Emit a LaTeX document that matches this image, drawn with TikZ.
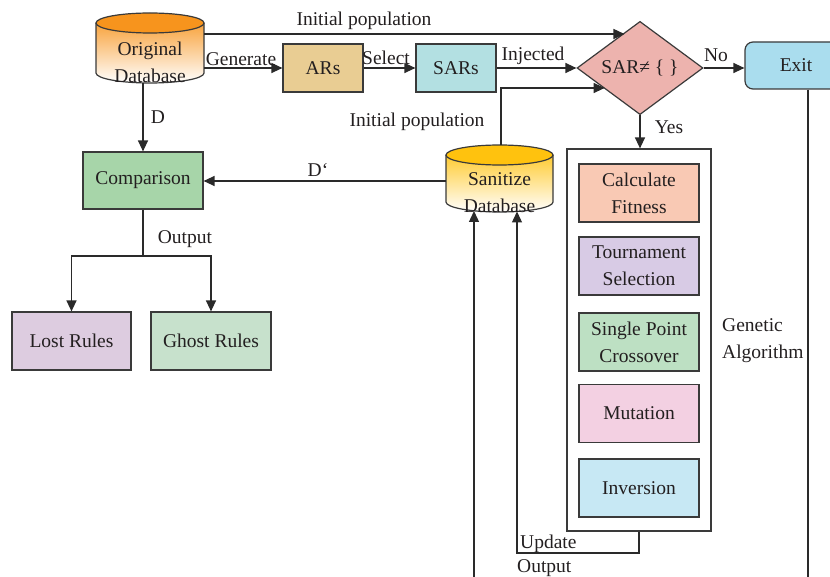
\documentclass[tikz,border=0pt]{standalone}
\usepackage{fontspec}
\setmainfont{Liberation Serif}
\usetikzlibrary{arrows.meta,shapes.geometric,calc}
\definecolor{bordc}{HTML}{3A3A3A}
\definecolor{linec}{HTML}{2A2A2A}
\definecolor{txtc}{HTML}{231F20}
\definecolor{dborange}{HTML}{F7941D}
\definecolor{dbyellow}{HTML}{FFC20E}
\definecolor{arsc}{HTML}{E9CD93}
\definecolor{sarsc}{HTML}{B3E0E2}
\definecolor{diac}{HTML}{EDB3AE}
\definecolor{exitc}{HTML}{AADDEE}
\definecolor{cmpc}{HTML}{A7D5A9}
\definecolor{lostc}{HTML}{DDCCE0}
\definecolor{ghostc}{HTML}{C7E1CC}
\definecolor{fitc}{HTML}{F9C9B4}
\definecolor{tourc}{HTML}{D8CBE5}
\definecolor{crossc}{HTML}{BDE0C3}
\definecolor{mutc}{HTML}{F3D0E2}
\definecolor{invc}{HTML}{C7E8F4}
\begin{document}
\begin{tikzpicture}[x=1pt,y=-1pt,
  every node/.style={font=\fontsize{19.5}{27}\selectfont, text=txtc},
  box/.style={draw=bordc, line width=1.2pt, inner sep=0pt, align=center},
  gabox/.style={box, minimum width=120pt, minimum height=58pt},
  arr/.style={-{Triangle[length=11pt,width=10pt]}, line width=1.3pt, draw=linec},
  ln/.style={line width=1.3pt, draw=linec},
  lbl/.style={inner sep=0pt}]
\useasboundingbox (0,0) rectangle (830,577);

% Original Database cylinder
\shade[top color=dborange, bottom color=white] (96,23) -- (96,73) arc[start angle=180,end angle=360,x radius=54pt,y radius=10pt] -- (204,23) arc[start angle=0,end angle=180,x radius=54pt,y radius=10pt] -- cycle;
\draw[bordc, line width=1.2pt] (96,23) -- (96,73) arc[start angle=180,end angle=360,x radius=54pt,y radius=10pt] -- (204,23);
\draw[bordc, line width=1.2pt, fill=dborange] (150,23) ellipse[x radius=54pt,y radius=10pt];
\node[lbl, align=center] (odb) at (150,62) {Original\\Database};

% Sanitize Database cylinder
\shade[top color=dbyellow, bottom color=white] (446,155) -- (446,202) arc[start angle=180,end angle=360,x radius=53.5pt,y radius=10pt] -- (553,155) arc[start angle=0,end angle=180,x radius=53.5pt,y radius=10pt] -- cycle;
\draw[bordc, line width=1.2pt] (446,155) -- (446,202) arc[start angle=180,end angle=360,x radius=53.5pt,y radius=10pt] -- (553,155);
\draw[bordc, line width=1.2pt, fill=dbyellow] (499.5,155) ellipse[x radius=53.5pt,y radius=10pt];
\node[lbl, align=center] (sdb) at (499.5,193) {Sanitize\\Database};

% boxes
\node[box, fill=arsc, minimum width=80pt, minimum height=48pt] (ars) at (323,68) {ARs};
\node[box, fill=sarsc, minimum width=80pt, minimum height=48pt] (sars) at (456,68) {SARs};
\node[box, diamond, fill=diac, minimum width=126pt, minimum height=90pt] (dia) at (640,68) {SAR≠ \{ \}};
\node[box, fill=exitc, rounded corners=8pt, minimum width=102pt, minimum height=47pt] (exit) at (796,65.5) {Exit};
\node[box, fill=cmpc, minimum width=120pt, minimum height=57pt] (cmp) at (143,180.5) {Comparison};
\node[box, fill=lostc, minimum width=119pt, minimum height=58pt] (lost) at (71.5,341) {Lost Rules};
\node[box, fill=ghostc, minimum width=120pt, minimum height=58pt] (ghost) at (211,341) {Ghost Rules};
\node[box, fill=white, minimum width=144pt, minimum height=382pt] (ga) at (639,340) {};
\node[gabox, fill=fitc] (fit) at (639,193) {Calculate\\Fitness};
\node[gabox, fill=tourc] (tour) at (639,266) {Tournament\\Selection};
\node[gabox, fill=crossc] (cross) at (639,342) {Single Point\\Crossover};
\node[gabox, fill=mutc] (mut) at (639,413.5) {Mutation};
\node[gabox, fill=invc] (inv) at (639,488) {Inversion};

% coordinates
\coordinate (odbr1) at (204,34);
\coordinate (odbr2) at (204,68);
\coordinate (odbbot) at (143,83);
\coordinate (sdbtop) at (501,145);
\coordinate (sdbl) at (446,181);
\coordinate (sdbin1) at (474,211);
\coordinate (sdbin2) at (517,211.5);
\coordinate (b1) at (474,577);
\coordinate (b2) at (808,577);
\coordinate (split) at (143,256);
\coordinate (updc) at (517,553);
\coordinate (ipa) at (501,88);
\coordinate (dtl) at ($(dia.west)!0.756!(dia.north)$);
\coordinate (dbl) at ($(dia.west)!0.444!(dia.south)$);

% connectors
\draw[arr] (odbr1) -- (dtl |- odbr1);
\draw[arr] (odbr2) -- (odbr2 -| ars.west);
\draw[arr] (ars.east) -- (sars.west);
\draw[arr] (sars.east) -- (dia.west);
\draw[arr] (dia.east) -- (dia.east -| exit.west);
\draw[arr] (dia.south) -- (dia.south |- ga.north);
\draw[arr] (sdbtop) -- (ipa) -- (dbl |- ipa);
\draw[arr] (odbbot) -- (cmp.north);
\draw[arr] (sdbl) -- (sdbl -| cmp.east);
\draw[ln] (cmp.south) -- (split);
\draw[arr] (split) -| (lost.north);
\draw[arr] (split) -| (ghost.north);
\draw[arr] (ga.south) |- (updc) -- (sdbin2);
\draw[arr] (b1) -- (sdbin1);
\draw[ln] (exit.south -| b2) -- (b2);

% labels
\node[lbl] (l1) at (364,21) {Initial population};
\node[lbl] (l2) at (241,59) {Generate};
\node[lbl] (l3) at (386,58) {Select};
\node[lbl] (l4) at (533,56) {Injected};
\node[lbl] (l5) at (716,55) {No};
\node[lbl] (l6) at (669,127) {Yes};
\node[lbl] (l7) at (417,122) {Initial population};
\node[lbl] (l8) at (158,117) {D};
\node[lbl] (l9) at (318,170) {D\symbol{96}};
\node[lbl] (l10) at (185,239) {Output};
\node[lbl, align=left, anchor=west] (l11) at (722,341) {Genetic\\Algorithm};
\node[lbl, anchor=west] (l12) at (520,544) {Update};
\node[lbl, anchor=west] (l13) at (517,568) {Output};
\end{tikzpicture}
\end{document}
